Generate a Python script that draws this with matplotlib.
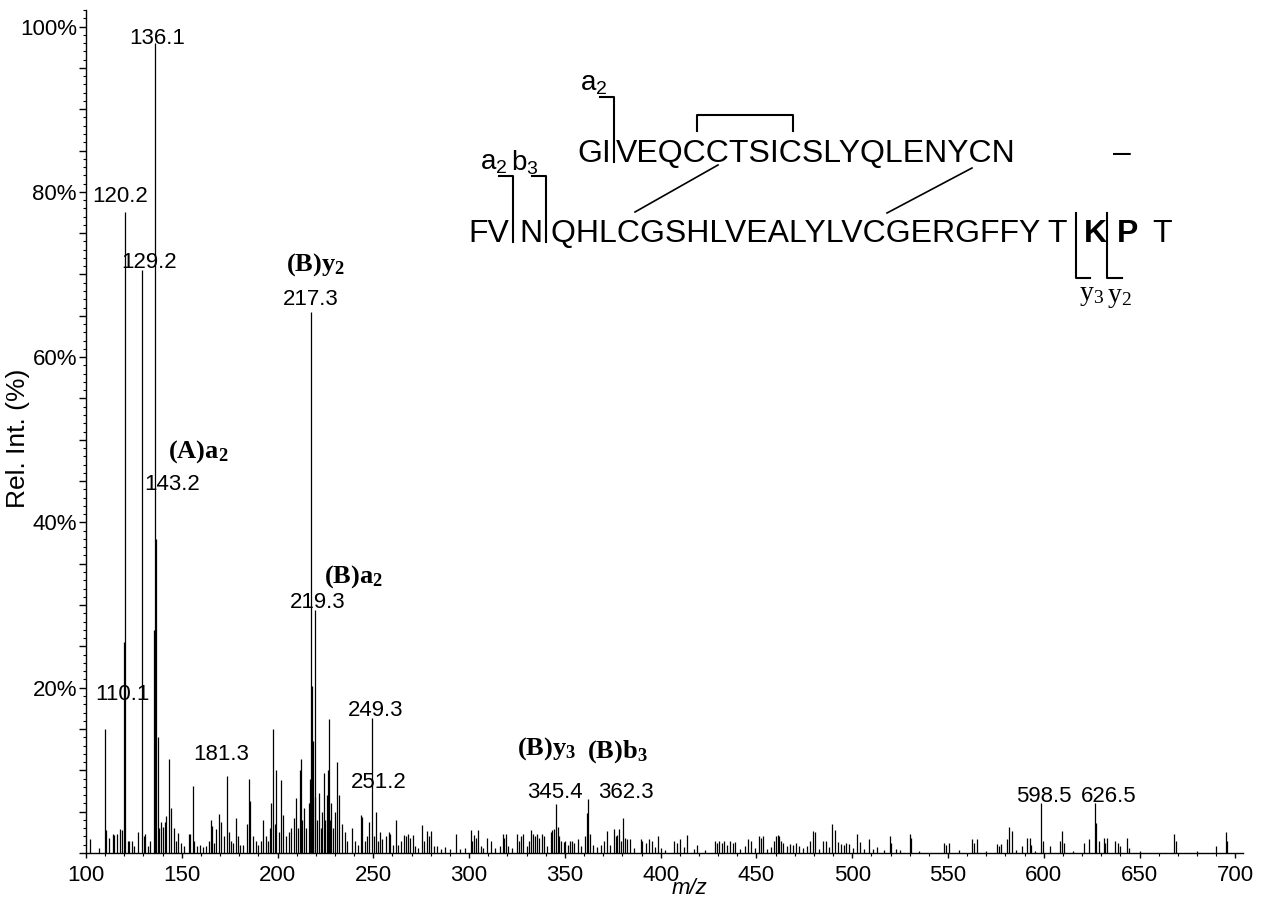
import numpy as np
import matplotlib.pyplot as plt
from matplotlib.ticker import MultipleLocator, FuncFormatter

plt.rcParams['font.family'] = ['Liberation Sans', 'DejaVu Sans']

# peak list: m/z and relative intensity (%)
mz = [102.3, 106.6, 110.1, 110.6, 111.8, 114.0, 114.8, 116.0, 117.5, 118.8,
      119.7, 120.2, 121.7, 122.5, 123.8, 125.0, 127.0, 129.2, 130.2, 131.0,
      132.3, 133.6, 135.6, 136.1, 136.6, 137.6, 138.2, 139.0, 140.0, 141.0,
      141.7, 143.2, 144.2, 145.9, 147.0, 148.0, 149.5, 151.0, 153.6, 154.4,
      155.7, 156.2, 158.0, 159.5, 161.0, 162.5, 164.0, 165.0, 165.6, 167.0,
      167.9, 169.5, 170.4, 172.2, 173.8, 174.5, 175.8, 177.0, 178.5, 179.4,
      180.5, 182.0, 183.8, 185.1, 185.8, 187.2, 188.5, 190.0,
      191.5, 192.6, 194.0, 195.0, 196.0, 196.8, 197.7, 198.5, 199.4, 200.5,
      201.7, 203.1, 204.5, 206.0, 207.0, 208.6, 209.5, 210.5, 211.6, 212.1,
      213.0, 213.8, 215.0, 216.2, 216.7, 217.3, 218.0, 218.6, 219.3, 219.8,
      220.5, 221.7, 222.5, 223.3, 224.0, 225.0, 225.6, 226.1, 226.7, 227.4,
      228.0, 229.0, 230.0, 230.9, 232.0, 233.4, 235.0, 236.5, 238.8, 240.5,
      242.0, 243.4, 244.2, 245.5, 246.5, 247.5, 249.3, 250.2, 251.6, 252.4,
      253.4, 254.7, 256.5, 258.0, 258.7, 260.5, 261.7, 263.0,
      264.5, 265.9, 267.0, 268.0, 269.2, 270.5, 272.0, 273.5, 275.6, 276.5,
      278.0, 279.0, 280.0, 281.5, 283.4, 285.5, 287.6, 290.0, 293.0, 295.5,
      298.0, 300.8, 301.5, 302.6, 303.4, 304.4, 306.0, 307.5, 309.4, 311.6,
      313.5, 316.0, 317.5, 318.3, 319.1, 320.5, 322.5, 325.2, 326.2, 327.3,
      328.3, 330.0,
      331.5, 332.5, 333.3, 334.2, 335.4, 336.5, 337.8, 339.0, 340.5, 342.6,
      343.5, 344.4, 345.4, 346.2, 347.0, 348.2, 349.4, 350.3, 351.5, 352.6,
      353.8, 355.0, 356.8, 358.5, 360.5, 361.4, 362.3, 363.0, 364.5, 367.0,
      369.0, 370.5, 372.2, 373.5, 375.5, 376.5, 377.3, 378.0, 379.5, 380.5,
      381.3, 382.5, 384.0, 386.0, 389.6, 390.5, 392.3, 393.8, 395.5, 397.0,
      398.5, 400.0, 402.0, 406.8, 408.5, 410.0, 412.0, 414.0, 417.5, 419.0,
      423.0, 428.5, 429.5, 430.5, 431.8, 433.0, 434.5, 436.0, 437.5, 438.9,
      441.5, 444.0, 445.5, 447.0, 449.0, 451.2, 452.2, 453.4, 455.5, 457.5,
      459.0, 460.2, 461.0, 462.0, 463.0, 464.0, 466.0, 467.5, 469.0, 470.5,
      472.0, 474.5, 476.5, 478.0, 479.3, 480.8, 482.5, 485.0, 486.2, 488.0,
      489.6, 491.0, 492.5, 494.0, 495.5, 497.0, 498.5, 500.5, 502.7, 504.0,
      506.0, 508.8, 511.0, 513.0, 516.5, 519.7, 520.5, 522.6, 525.0, 530.1,
      530.8, 535.0,
      547.7, 548.8, 550.3, 556.0, 562.7, 563.8, 564.9, 570.0, 575.7, 576.8,
      577.8, 580.9, 581.8, 583.2, 585.5, 588.8, 591.5, 592.6, 593.5, 595.5,
      598.5, 599.4, 603.2, 608.4, 609.3, 610.8, 615.0, 620.9, 623.5, 626.5,
      627.0, 628.8, 631.2, 632.2, 633.2, 637.4, 638.5, 640.0, 643.6, 644.5,
      650.0, 667.9, 668.8, 680.0, 689.8, 694.9, 695.8]

inten = [1.7, 0.6, 15.0, 2.8, 1.8, 2.3, 2.2, 2.3, 2.9, 2.8,
         25.5, 77.5, 1.4, 1.5, 1.4, 0.8, 2.5, 70.5, 2.0, 2.3,
         0.8, 1.5, 27.0, 98.0, 38.0, 14.0, 3.0, 3.7, 3.2, 3.7,
         4.5, 11.4, 5.5, 3.0, 1.5, 2.4, 1.2, 0.8, 2.3, 2.3,
         8.1, 1.5, 0.8, 1.0, 0.7, 0.9, 1.5, 4.0, 3.3, 1.2,
         2.9, 4.7, 3.7, 2.0, 9.3, 2.5, 1.5, 1.2, 4.2, 2.0,
         1.0, 1.0, 3.5, 9.0, 6.3, 2.0, 1.5, 1.0,
         1.5, 4.0, 2.0, 1.5, 3.0, 6.0, 15.0, 3.5, 10.0, 2.5,
         8.8, 4.6, 2.0, 2.5, 3.0, 4.2, 6.7, 3.0, 10.0, 11.4,
         4.0, 5.4, 3.0, 6.0, 9.0, 65.5, 20.2, 13.6, 29.4, 6.8,
         4.0, 7.3, 3.0, 5.0, 9.7, 4.0, 7.0, 10.0, 16.2, 4.0,
         6.0, 3.0, 5.0, 11.0, 7.0, 3.5, 2.5, 1.5, 3.0, 1.5,
         1.0, 4.6, 4.4, 1.5, 2.0, 3.8, 16.3, 2.0, 5.0, 1.5,
         2.5, 1.7, 2.0, 2.5, 2.3, 1.0, 4.0, 1.0,
         1.5, 2.2, 2.0, 2.3, 1.8, 2.2, 0.8, 0.6, 3.4, 1.5,
         2.7, 2.0, 2.7, 0.8, 0.8, 0.5, 0.7, 0.5, 2.3, 0.5,
         0.6, 2.8, 1.5, 2.2, 1.8, 2.8, 0.8, 0.6, 1.8, 1.5,
         0.6, 0.8, 2.3, 1.8, 2.3, 0.8, 0.6, 2.3, 1.5, 2.0,
         2.3, 0.8,
         1.5, 2.8, 2.3, 2.0, 2.3, 1.8, 2.3, 2.0, 0.8, 2.6,
         2.8, 2.9, 5.9, 3.1, 2.0, 1.5, 1.3, 1.5, 1.0, 1.4,
         1.5, 1.2, 1.7, 0.8, 2.0, 4.8, 6.5, 2.3, 1.0, 0.7,
         1.0, 1.5, 2.7, 1.0, 2.9, 2.0, 2.2, 2.9, 1.5, 4.2,
         1.8, 1.7, 1.7, 0.6, 1.7, 1.4, 1.2, 1.7, 1.5, 0.7,
         2.0, 0.6, 0.4, 1.5, 1.2, 1.7, 0.7, 2.2, 0.5, 1.0,
         0.4, 1.4, 1.2, 1.4, 1.2, 1.4, 1.0, 1.4, 1.2, 1.3,
         0.5, 0.8, 1.7, 1.5, 0.6, 2.0, 1.8, 2.0, 0.5, 0.7,
         1.5, 2.0, 2.2, 2.0, 1.5, 1.2, 0.8, 1.1, 1.0, 1.2,
         0.8, 0.6, 0.8, 1.5, 2.7, 2.6, 0.5, 1.5, 1.4, 0.7,
         3.5, 2.8, 1.3, 1.1, 1.0, 1.2, 1.1, 0.6, 2.3, 1.3,
         0.5, 1.7, 0.5, 0.7, 0.4, 2.0, 1.2, 0.5, 0.4, 2.3,
         1.8, 0.3,
         1.2, 1.0, 1.2, 0.4, 1.7, 1.2, 1.7, 0.3, 1.1, 0.9,
         1.1, 1.7, 3.1, 2.7, 0.4, 0.8, 1.8, 1.8, 1.0, 0.3,
         6.1, 1.5, 0.8, 1.5, 2.7, 1.2, 0.3, 1.2, 1.7, 6.1,
         3.6, 1.5, 1.8, 1.2, 1.8, 1.5, 1.2, 0.8, 1.8, 0.6,
         0.3, 2.3, 1.5, 0.2, 0.8, 2.5, 1.5]

# peak labels (text, x px, y px)
peak_labels = [('136.1', 157, 39), ('120.2', 120, 197), ('129.2', 149, 263),
               ('217.3', 311, 300), ('143.2', 172, 484), ('219.3', 318, 603),
               ('110.1', 122, 694), ('249.3', 376, 711), ('181.3', 221, 754),
               ('251.2', 379, 782), ('345.4', 555, 792), ('362.3', 626, 792),
               ('598.5', 1044, 796), ('626.5', 1109, 796)]
ion_labels = [('(B)y_2', 315, 265), ('(A)a_2', 198, 452), ('(B)a_2', 353, 577),
              ('(B)y_3', 547, 749), ('(B)b_3', 617, 752)]

W, H = 1269, 902
def fx(x):
    return x / W
def fy(y):
    return 1 - y / H

fig = plt.figure(figsize=(W / 100, H / 100), dpi=100)
ax = fig.add_axes([fx(86), fy(853), (1243 - 86) / W, (853 - 10) / H])

ax.vlines(mz, 0, inten, color='black', lw=0.9)

ax.set_xlim(100, 704)
ax.set_ylim(0, 102)
for s in ['top', 'right']:
    ax.spines[s].set_visible(False)
ax.spines['left'].set_linewidth(1.0)
ax.spines['bottom'].set_linewidth(1.0)

ax.xaxis.set_major_locator(MultipleLocator(50))
ax.xaxis.set_minor_locator(MultipleLocator(10))
ax.yaxis.set_major_locator(MultipleLocator(5))
ax.yaxis.set_minor_locator(MultipleLocator(1))
ax.yaxis.set_major_formatter(FuncFormatter(lambda v, p: '%d%%' % v if v > 0 and int(round(v)) % 20 == 0 else ''))
ax.tick_params(axis='x', which='major', length=3.5, width=1, labelsize=16, pad=5)
ax.tick_params(axis='x', which='minor', length=2, width=0.8)
ax.tick_params(axis='y', which='major', length=5, width=1, labelsize=16, pad=1.5)
ax.tick_params(axis='y', which='minor', length=2.5, width=0.8)

fig.text(fx(18), fy(438), 'Rel. Int. (%)', rotation=90, fontsize=19, ha='center', va='center')
fig.text(fx(690), fy(889), 'm/z', style='italic', fontsize=16, ha='center', va='center')

for t, x, y in peak_labels:
    fig.text(fx(x), fy(y), t, fontsize=16, ha='center', va='center')
for t, x, y in ion_labels:
    fig.text(fx(x), fy(y), r'$\mathregular{' + t + '}$', fontsize=19, ha='center', va='center',
             family='Liberation Serif', weight='bold')

# sequence diagram
seq = 23
fig.text(fx(577), fy(162), 'GI', fontsize=seq, va='baseline')
fig.text(fx(616), fy(162), 'VEQCCTSICSLYQLENYCN', fontsize=seq, va='baseline')
fig.text(fx(1122), fy(162), '–', fontsize=seq, va='baseline', ha='center')
fig.text(fx(468), fy(242), 'FV', fontsize=seq, va='baseline')
fig.text(fx(519), fy(242), 'N', fontsize=seq, va='baseline')
fig.text(fx(551), fy(242), 'QHLCGSHLVEALYLVCGERGFFY T', fontsize=seq, va='baseline')
fig.text(fx(1084), fy(242), 'K', fontsize=seq, va='baseline', weight='bold')
fig.text(fx(1117), fy(242), 'P', fontsize=seq, va='baseline', weight='bold')
fig.text(fx(1152), fy(242), 'T', fontsize=seq, va='baseline')

fig.text(fx(594), fy(84), r'$\mathregular{a_2}$', fontsize=20, ha='center', va='center')
fig.text(fx(494), fy(163), r'$\mathregular{a_2}$', fontsize=20, ha='center', va='center')
fig.text(fx(525), fy(163), r'$\mathregular{b_3}$', fontsize=20, ha='center', va='center')
fig.text(fx(1092), fy(296), r'$\mathregular{y_3}$', fontsize=20, ha='center', va='center', family='Liberation Serif')
fig.text(fx(1119), fy(297), r'$\mathregular{y_2}$', fontsize=20, ha='center', va='center', family='Liberation Serif')

def seg(xs, ys, lw=1.5):
    fig.add_artist(plt.Line2D([fx(v) for v in xs], [fy(v) for v in ys], color='black', lw=lw))

seg([600, 614, 614], [97, 97, 162])
seg([499, 513, 513], [176, 176, 242])
seg([532, 546, 546], [176, 176, 242])
seg([697, 697, 793, 793], [131, 115, 115, 131])
seg([718, 635], [165, 212], lw=1.2)
seg([972, 887], [168, 213], lw=1.2)
seg([1076, 1076, 1090], [213, 278, 278])
seg([1107, 1107, 1122], [213, 278, 278])

plt.savefig('out.png', dpi=100)
